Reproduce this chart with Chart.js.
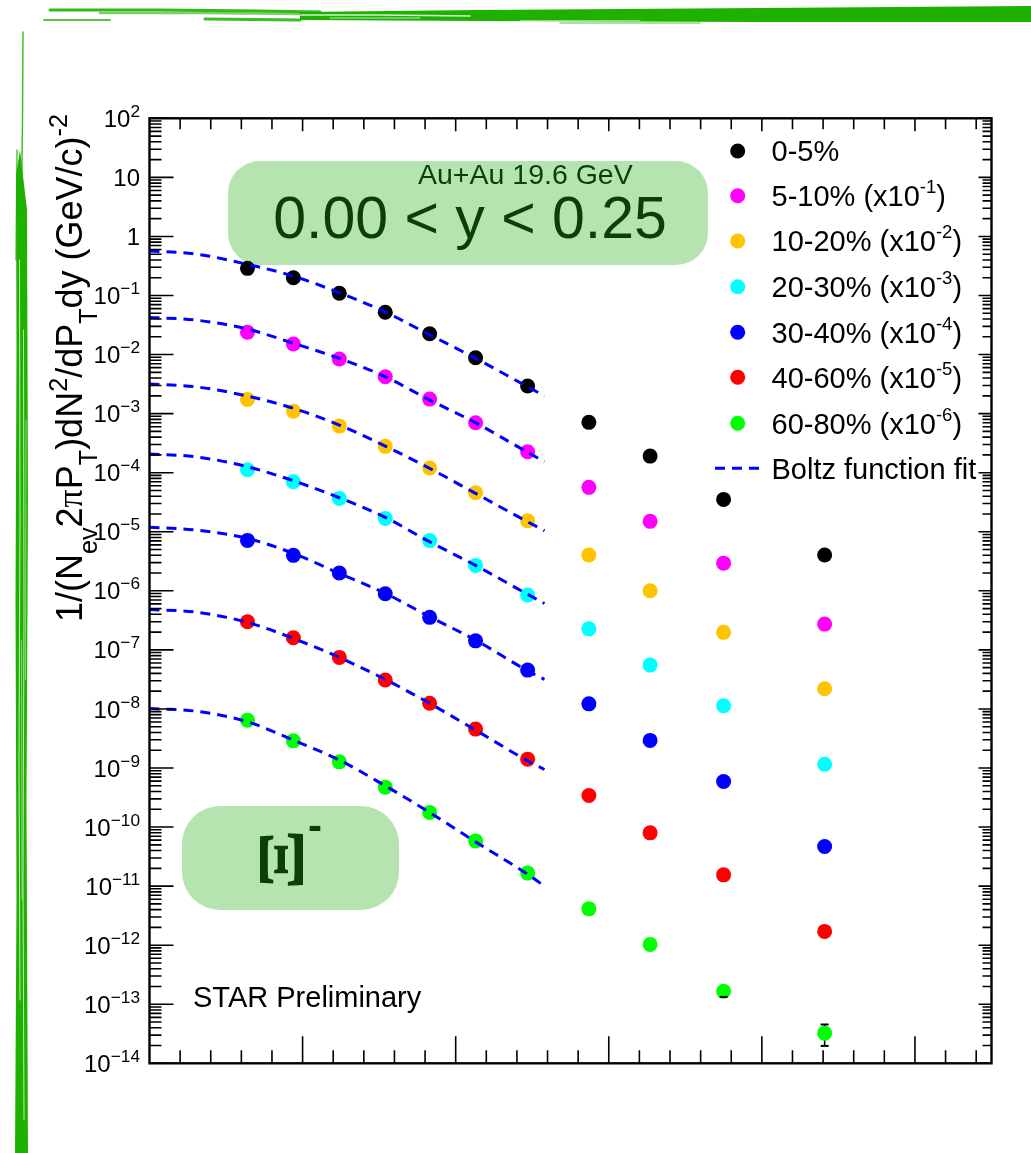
<!DOCTYPE html>
<html>
<head>
<meta charset="utf-8">
<title>Xi- spectra, Au+Au 19.6 GeV</title>
<script src="https://cdn.jsdelivr.net/npm/chart.js@4.4.1/dist/chart.umd.min.js"></script>
<style>
  html, body { margin: 0; padding: 0; background: #fff; }
  #wrap { width: 1031px; height: 1153px; }
</style>
</head>
<body>
<div id="wrap"><canvas id="spectra" width="1031" height="1153"></canvas></div>
<script>
// pT bin centres (GeV/c)
const ptBins = [0.64, 0.94, 1.24, 1.54, 1.83, 2.13, 2.47, 2.87, 3.27, 3.75, 4.41];

// invariant yields per centrality class (already scaled as in the legend)
const cent0_5   = [0.288, 0.200, 0.109, 0.0519, 0.0225, 0.00883, 0.00293, 7.11e-4, 1.91e-4, 3.53e-5, 4.03e-6];
const cent5_10  = [0.0238, 0.0151, 0.00839, 0.00421, 0.00176, 7.00e-4, 2.26e-4, 5.64e-5, 1.50e-5, 2.94e-6, 2.73e-7];
const cent10_20 = [1.74e-3, 1.10e-3, 6.15e-4, 2.79e-4, 1.20e-4, 4.57e-5, 1.53e-5, 4.03e-6, 1.00e-6, 1.98e-7, 2.19e-8];
const cent20_30 = [1.12e-4, 7.01e-5, 3.67e-5, 1.68e-5, 7.08e-6, 2.69e-6, 8.45e-7, 2.27e-7, 5.52e-8, 1.13e-8, 1.16e-9];
const cent30_40 = [7.13e-6, 3.98e-6, 2.00e-6, 8.89e-7, 3.55e-7, 1.42e-7, 4.54e-8, 1.22e-8, 2.93e-9, 5.92e-10, 4.69e-11];
const cent40_60 = [2.99e-7, 1.60e-7, 7.45e-8, 3.08e-8, 1.25e-8, 4.55e-9, 1.41e-9, 3.43e-10, 7.97e-11, 1.55e-11, 1.71e-12];
const cent60_80 = [6.46e-9, 2.88e-9, 1.27e-9, 4.74e-10, 1.77e-10, 5.83e-11, 1.66e-11, 4.12e-12, 1.03e-12, 1.66e-13, 3.24e-14];

// the only error bars that stick out of the markers (60-80%)
const err60_80Low  = [null, null, null, null, null, null, null, null, null, 1.33e-13, 1.97e-14];
const err60_80High = [null, null, null, null, null, null, null, null, null, null, 4.54e-14];

// Boltzmann fit curves, sampled along pT
const fitPt    = [0, 0.3, 0.64, 0.94, 1.24, 1.54, 1.83, 2.13, 2.47, 2.58];
const fit0_5   = [0.566, 0.504, 0.337, 0.213, 0.111, 0.0525, 0.0216, 0.00863, 0.00285, 0.00200];
const fit5_10  = [0.0426, 0.0384, 0.0270, 0.0155, 0.00863, 0.00421, 0.00170, 7.00e-4, 2.21e-4, 1.53e-4];
const fit10_20 = [3.16e-3, 2.85e-3, 1.98e-3, 1.23e-3, 6.40e-4, 2.82e-4, 1.18e-4, 4.46e-5, 1.47e-5, 1.04e-5];
const fit20_30 = [2.07e-4, 1.86e-4, 1.26e-4, 7.29e-5, 3.76e-5, 1.75e-5, 6.76e-6, 2.69e-6, 8.71e-7, 6.10e-7];
const fit30_40 = [1.19e-5, 1.07e-5, 7.71e-6, 4.30e-6, 1.97e-6, 9.04e-7, 3.63e-7, 1.46e-7, 4.42e-8, 3.16e-8];
const fit40_60 = [4.84e-7, 4.36e-7, 2.92e-7, 1.56e-7, 7.45e-8, 3.16e-8, 1.24e-8, 4.38e-9, 1.32e-9, 9.44e-10];
const fit60_80 = [1.02e-8, 9.18e-9, 6.05e-9, 2.96e-9, 1.36e-9, 4.99e-10, 1.77e-10, 5.61e-11, 1.59e-11, 9.97e-12];

const legendLabels = ['0-5%', '5-10% (x10^-1)', '10-20% (x10^-2)', '20-30% (x10^-3)',
                      '30-40% (x10^-4)', '40-60% (x10^-5)', '60-80% (x10^-6)'];
const fitLabel = 'Boltz function fit';
const colors = ['#000000', '#ff00ff', '#ffc400', '#00ffff', '#0000ff', '#ff0000', '#00ff00'];

const yTickLabels = ['10^2', '10', '1', '10^-1', '10^-2', '10^-3', '10^-4', '10^-5', '10^-6', '10^-7',
                     '10^-8', '10^-9', '10^-10', '10^-11', '10^-12', '10^-13', '10^-14'];
const yTickValues = [1e2, 1e1, 1, 1e-1, 1e-2, 1e-3, 1e-4, 1e-5, 1e-6, 1e-7,
                     1e-8, 1e-9, 1e-10, 1e-11, 1e-12, 1e-13, 1e-14];
const xMajorTicks = [1, 2, 3, 4, 5];

const FONT = '"Liberation Sans", Arial, Helvetica, sans-serif';
const SERIF = '"Liberation Serif", "Times New Roman", serif';
const BOX_GREEN = '#b6e4b1';
const TEXT_GREEN = '#0a3f06';
const BRUSH = '#1fb100';
const FIT_BLUE = '#0000ff';
const MARKER_R = 7.5;

const series = [cent0_5, cent5_10, cent10_20, cent20_30, cent30_40, cent40_60, cent60_80];
const fits = [fit0_5, fit5_10, fit10_20, fit20_30, fit30_40, fit40_60, fit60_80];

const toXY = (xs, ys) => xs.map((x, i) => ({ x: x, y: ys[i] }));

const datasets = [];
fits.forEach((f, i) => {
  datasets.push({
    type: 'line',
    label: 'fit ' + legendLabels[i],
    data: toXY(fitPt, f),
    borderColor: FIT_BLUE,
    borderWidth: 3,
    borderDash: [10, 7],
    pointRadius: 0,
    fill: false,
    cubicInterpolationMode: 'monotone',
    order: 0
  });
});
series.forEach((s, i) => {
  datasets.push({
    type: 'scatter',
    label: legendLabels[i],
    data: toXY(ptBins, s),
    backgroundColor: colors[i],
    borderWidth: 0,
    pointRadius: MARKER_R,
    pointHoverRadius: MARKER_R,
    order: 1
  });
});

// split "10^-3" style strings into runs with a superscript
function parseSup(str) {
  const m = str.match(/^(.*?)\^(-?\d+)(.*)$/);
  if (!m) return [{ t: str }];
  const runs = [{ t: m[1] }, { t: m[2], s: 'sup' }];
  if (m[3]) runs.push({ t: m[3] });
  return runs;
}

// draws a sequence of runs (normal / sup / sub) starting from x on a baseline y
function drawRich(ctx, runs, x, y, size, opts) {
  opts = opts || {};
  const scale = opts.scale || 0.7;
  const supShift = opts.supShift != null ? opts.supShift : size * 0.45;
  const subShift = opts.subShift != null ? opts.subShift : size * 0.3;
  const parts = runs.map(r => {
    const sz = r.s ? size * scale : size;
    const font = sz + 'px ' + (r.f || opts.family || FONT);
    ctx.font = font;
    return { r: r, font: font, w: ctx.measureText(r.t).width };
  });
  const total = parts.reduce((a, p) => a + p.w, 0);
  let cx = opts.align === 'right' ? x - total : opts.align === 'center' ? x - total / 2 : x;
  ctx.textAlign = 'left';
  ctx.textBaseline = 'alphabetic';
  parts.forEach(p => {
    ctx.font = p.font;
    const dy = p.r.s === 'sup' ? -supShift : p.r.s === 'sub' ? subShift : 0;
    ctx.fillText(p.r.t, cx, y + dy);
    cx += p.w;
  });
  return total;
}

function roundRect(ctx, x, y, w, h, r) {
  ctx.beginPath();
  ctx.moveTo(x + r, y);
  ctx.arcTo(x + w, y, x + w, y + h, r);
  ctx.arcTo(x + w, y + h, x, y + h, r);
  ctx.arcTo(x, y + h, x, y, r);
  ctx.arcTo(x, y, x + w, y, r);
  ctx.closePath();
}

function stroke(ctx, pts, width, alpha) {
  ctx.globalAlpha = alpha;
  ctx.lineWidth = width;
  ctx.beginPath();
  ctx.moveTo(pts[0][0], pts[0][1]);
  for (let i = 1; i < pts.length; i++) ctx.lineTo(pts[i][0], pts[i][1]);
  ctx.stroke();
}

function band(ctx, pts) {
  ctx.globalAlpha = 1;
  ctx.beginPath();
  ctx.moveTo(pts[0][0], pts[0][1]);
  for (let i = 1; i < pts.length; i++) ctx.lineTo(pts[i][0], pts[i][1]);
  ctx.closePath();
  ctx.fill();
}

// hand-painted green border along the top and the left
function drawBrush(ctx) {
  ctx.save();
  ctx.strokeStyle = BRUSH;
  ctx.fillStyle = BRUSH;
  ctx.lineCap = 'round';
  band(ctx, [[300, 12], [480, 10], [760, 8], [1031, 6], [1031, 22], [760, 22], [480, 21], [300, 20]]);
  band(ctx, [[16, 175], [20, 150], [27, 210], [28, 500], [26.5, 800], [28, 1153],
             [15, 1153], [16.5, 900], [15.5, 600], [16.5, 350]]);
  // light streaks of the dry brush
  ctx.strokeStyle = '#ffffff';
  stroke(ctx, [[300, 15], [380, 15], [470, 16]], 1.5, 0.8);
  stroke(ctx, [[330, 18], [420, 18]], 1.2, 0.7);
  stroke(ctx, [[520, 20.5], [640, 20.5]], 1, 0.5);
  stroke(ctx, [[19.5, 260], [20, 520], [19, 760], [20, 1000]], 1, 0.75);
  stroke(ctx, [[23.5, 330], [24, 610], [23, 880], [24, 1120]], 1, 0.7);
  stroke(ctx, [[21.5, 640], [22, 900]], 0.8, 0.6);
  stroke(ctx, [[26, 420], [25.5, 680]], 0.8, 0.6);
  ctx.strokeStyle = BRUSH;
  stroke(ctx, [[50, 10], [160, 10], [260, 11], [320, 12]], 3, 0.9);
  stroke(ctx, [[44, 20], [110, 20]], 2, 0.75);
  stroke(ctx, [[100, 13], [200, 13], [300, 14]], 2.5, 0.6);
  stroke(ctx, [[205, 19], [300, 20]], 3, 0.85);
  stroke(ctx, [[560, 23], [700, 23]], 1.5, 0.5);
  stroke(ctx, [[23, 32], [22.5, 120], [21.5, 200]], 1.4, 0.9);
  stroke(ctx, [[17, 150], [16, 260]], 1.4, 0.8);
  ctx.restore();
}

const spectraPlugin = {
  id: 'spectraDecor',
  beforeDraw(chart) {
    const ctx = chart.ctx;
    ctx.save();
    ctx.fillStyle = '#ffffff';
    ctx.fillRect(0, 0, chart.width, chart.height);
    ctx.restore();
    drawBrush(ctx);
  },
  beforeDatasetsDraw(chart) {
    const ctx = chart.ctx;
    const xs = chart.scales.x, ys = chart.scales.y;
    ctx.save();
    // rapidity box
    ctx.fillStyle = BOX_GREEN;
    roundRect(ctx, 228, 161, 480, 104, 32);
    ctx.fill();
    ctx.fillStyle = TEXT_GREEN;
    ctx.font = '28.5px ' + FONT;
    ctx.textAlign = 'left';
    ctx.textBaseline = 'alphabetic';
    ctx.fillText('Au+Au 19.6 GeV', 418, 183.5);
    ctx.font = '59px ' + FONT;
    ctx.textAlign = 'center';
    ctx.fillText('0.00 < y < 0.25', 470, 237.5);

    // particle box, the Xi is set sideways
    ctx.fillStyle = BOX_GREEN;
    roundRect(ctx, 182, 806, 217, 104, 38);
    ctx.fill();
    ctx.fillStyle = TEXT_GREEN;
    ctx.save();
    ctx.translate(282.5, 859.5);
    ctx.rotate(-Math.PI / 2);
    ctx.font = 'bold 68px ' + SERIF;
    ctx.textAlign = 'left';
    ctx.textBaseline = 'alphabetic';
    const m = ctx.measureText('\u039E');
    const gw = m.actualBoundingBoxLeft + m.actualBoundingBoxRight;
    const gh = m.actualBoundingBoxAscent + m.actualBoundingBoxDescent;
    ctx.scale(53 / gw, 43 / gh);
    ctx.fillText('\u039E', (m.actualBoundingBoxLeft - m.actualBoundingBoxRight) / 2,
                 (m.actualBoundingBoxAscent - m.actualBoundingBoxDescent) / 2);
    ctx.restore();
    ctx.font = 'bold 42px ' + FONT;
    ctx.textAlign = 'center';
    ctx.fillText('-', 315, 840);

    // error bars (under the markers)
    ctx.strokeStyle = '#000';
    ctx.lineWidth = 1.5;
    ptBins.forEach((pt, i) => {
      if (err60_80Low[i] == null) return;
      const px = xs.getPixelForValue(pt);
      const hi = err60_80High[i] != null ? err60_80High[i] : cent60_80[i];
      ctx.beginPath();
      ctx.moveTo(px, ys.getPixelForValue(err60_80Low[i]));
      ctx.lineTo(px, ys.getPixelForValue(hi));
      ctx.stroke();
    });
    ctx.restore();
  },
  afterDatasetsDraw(chart) {
    const ctx = chart.ctx;
    const a = chart.chartArea;
    const xs = chart.scales.x, ys = chart.scales.y;
    ctx.save();

    // error bar caps on top of the markers
    ctx.strokeStyle = '#000';
    ctx.lineWidth = 2;
    ptBins.forEach((pt, i) => {
      const px = xs.getPixelForValue(pt);
      [err60_80Low[i], err60_80High[i]].forEach(v => {
        if (v == null) return;
        const py = ys.getPixelForValue(v);
        ctx.beginPath();
        ctx.moveTo(px - 4, py);
        ctx.lineTo(px + 4, py);
        ctx.stroke();
      });
    });

    // frame
    ctx.lineWidth = 2.4;
    ctx.strokeRect(a.left, a.top, a.right - a.left, a.bottom - a.top);

    // y ticks, log decades with 2..9 minors
    ctx.lineWidth = 1.6;
    ctx.beginPath();
    for (let e = -14; e <= 2; e++) {
      const dec = Math.pow(10, e);
      const py = ys.getPixelForValue(dec);
      ctx.moveTo(a.left, py); ctx.lineTo(a.left + 24, py);
      ctx.moveTo(a.right, py); ctx.lineTo(a.right - 13, py);
      if (e === 2) continue;
      for (let k = 2; k <= 9; k++) {
        const my = ys.getPixelForValue(k * dec);
        ctx.moveTo(a.left, my); ctx.lineTo(a.left + 12, my);
        ctx.moveTo(a.right, my); ctx.lineTo(a.right - 9, my);
      }
    }
    // x ticks, majors at whole GeV/c and minors every 0.2
    for (let k = 1; k < 28; k++) {
      const v = k * 0.2;
      const px = xs.getPixelForValue(v);
      const major = xMajorTicks.some(t => Math.abs(t - v) < 1e-6);
      ctx.moveTo(px, a.bottom); ctx.lineTo(px, a.bottom - (major ? 27 : 13));
      ctx.moveTo(px, a.top); ctx.lineTo(px, a.top + (major ? 13 : 11));
    }
    ctx.stroke();

    // y tick labels
    ctx.fillStyle = '#000';
    yTickLabels.forEach((lab, i) => {
      const py = ys.getPixelForValue(yTickValues[i]);
      const runs = parseSup(lab);
      if (runs.length > 1) runs[1].t = runs[1].t.replace('-', '\u2212');
      drawRich(ctx, runs, 140, py + 8.6, 24, { align: 'right', scale: 0.72, supShift: 10 });
    });

    // axis title, rotated
    ctx.save();
    ctx.translate(82, 0);
    ctx.rotate(-Math.PI / 2);
    drawRich(ctx, [
      { t: '1/(N' }, { t: 'ev', s: 'sub' }, { t: '2' }, { t: '\u03C0', f: SERIF }, { t: 'P' },
      { t: 'T', s: 'sub' }, { t: ')dN' }, { t: '2', s: 'sup' }, { t: '/dP' }, { t: 'T', s: 'sub' },
      { t: 'dy (GeV/c)' }, { t: '-2', s: 'sup' }
    ], -114, 0, 36, { align: 'right', scale: 0.7, supShift: 15, subShift: 15 });
    ctx.restore();

    // legend
    const rowY = [151, 195.7, 241, 286.7, 332.3, 377.3, 423.3];
    legendLabels.forEach((lab, i) => {
      ctx.fillStyle = colors[i];
      ctx.beginPath();
      ctx.arc(737.7, rowY[i], MARKER_R, 0, Math.PI * 2);
      ctx.fill();
      ctx.fillStyle = '#000';
      drawRich(ctx, parseSup(lab), 771.5, rowY[i] + 10.3, 29, { scale: 0.64, supShift: 13 });
    });
    ctx.strokeStyle = FIT_BLUE;
    ctx.lineWidth = 3;
    ctx.setLineDash([10, 7]);
    ctx.beginPath();
    ctx.moveTo(715, 468.3);
    ctx.lineTo(762, 468.3);
    ctx.stroke();
    ctx.setLineDash([]);
    ctx.fillStyle = '#000';
    ctx.font = '29px ' + FONT;
    ctx.textAlign = 'left';
    ctx.fillText(fitLabel, 771.5, 478.6);

    ctx.font = '29px ' + FONT;
    ctx.fillText('STAR Preliminary', 193, 1007);
    ctx.restore();
  }
};

new Chart(document.getElementById('spectra'), {
  data: { datasets: datasets },
  options: {
    responsive: false,
    animation: false,
    devicePixelRatio: 1,
    layout: { padding: { left: 149.5, right: 39.5, top: 118.3, bottom: 89.7 } },
    plugins: { legend: { display: false }, tooltip: { enabled: false } },
    scales: {
      x: { type: 'linear', min: 0, max: 5.5, display: false },
      y: { type: 'logarithmic', min: 1e-14, max: 1e2, display: false }
    }
  },
  plugins: [spectraPlugin]
});
</script>
</body>
</html>
